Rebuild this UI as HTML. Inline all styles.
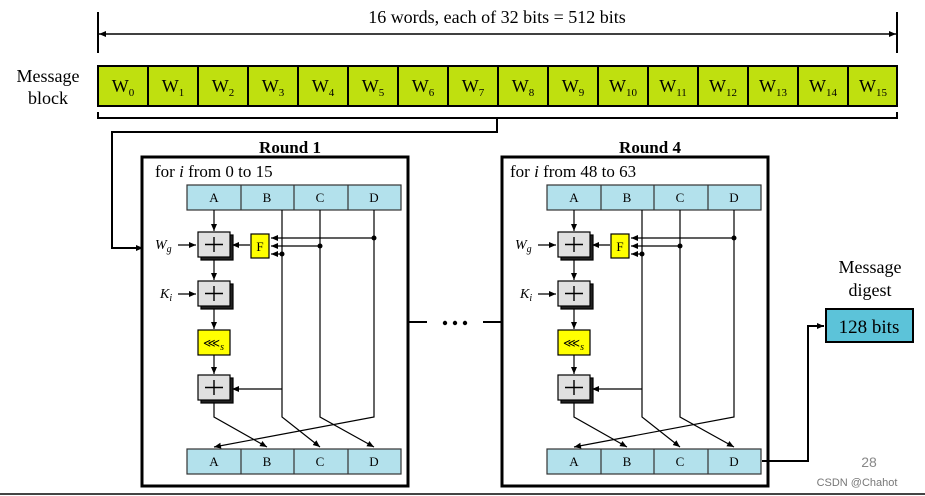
<!DOCTYPE html>
<html><head><meta charset="utf-8"><style>
html,body{margin:0;padding:0;background:#fff;width:925px;height:496px;overflow:hidden}
svg{display:block}
text{font-family:"Liberation Serif",serif;fill:#000}
</style></head><body>
<svg width="925" height="496" viewBox="0 0 925 496" xmlns="http://www.w3.org/2000/svg">
<defs>
<marker id="ar" markerWidth="8" markerHeight="8" refX="7" refY="4" orient="auto" markerUnits="userSpaceOnUse">
<path d="M0,1 L7,4 L0,7 Z" fill="#000"/></marker>
</defs>
<!-- top dimension -->
<line x1="98" y1="12" x2="98" y2="53" stroke="#000" stroke-width="2"/>
<line x1="897" y1="12" x2="897" y2="53" stroke="#000" stroke-width="2"/>
<line x1="99" y1="34" x2="896" y2="34" stroke="#000" stroke-width="1.5"/>
<path d="M99,34 l7,-3 v6 z M896,34 l-7,-3 v6 z" fill="#000"/>
<text x="497" y="23" font-size="18" text-anchor="middle">16 words, each of 32 bits = 512 bits</text>
<text x="48" y="82" font-size="18" text-anchor="middle">Message</text>
<text x="48" y="104" font-size="18" text-anchor="middle">block</text>
<!-- words -->
<g stroke="#000" stroke-width="2" fill="#bfe00f">
<rect x="98" y="66" width="799" height="40"/>
</g>
<g stroke="#000" stroke-width="2">
<line x1="148" y1="66" x2="148" y2="106"/><line x1="198" y1="66" x2="198" y2="106"/><line x1="248" y1="66" x2="248" y2="106"/><line x1="298" y1="66" x2="298" y2="106"/><line x1="348" y1="66" x2="348" y2="106"/><line x1="398" y1="66" x2="398" y2="106"/><line x1="448" y1="66" x2="448" y2="106"/><line x1="498" y1="66" x2="498" y2="106"/><line x1="548" y1="66" x2="548" y2="106"/><line x1="598" y1="66" x2="598" y2="106"/><line x1="648" y1="66" x2="648" y2="106"/><line x1="698" y1="66" x2="698" y2="106"/><line x1="748" y1="66" x2="748" y2="106"/><line x1="798" y1="66" x2="798" y2="106"/><line x1="848" y1="66" x2="848" y2="106"/>
</g>
<g font-size="18" text-anchor="middle">
<text x="123" y="92">W<tspan font-size="11" dy="4">0</tspan></text>
<text x="173" y="92">W<tspan font-size="11" dy="4">1</tspan></text>
<text x="223" y="92">W<tspan font-size="11" dy="4">2</tspan></text>
<text x="273" y="92">W<tspan font-size="11" dy="4">3</tspan></text>
<text x="323" y="92">W<tspan font-size="11" dy="4">4</tspan></text>
<text x="373" y="92">W<tspan font-size="11" dy="4">5</tspan></text>
<text x="423" y="92">W<tspan font-size="11" dy="4">6</tspan></text>
<text x="473" y="92">W<tspan font-size="11" dy="4">7</tspan></text>
<text x="523" y="92">W<tspan font-size="11" dy="4">8</tspan></text>
<text x="573" y="92">W<tspan font-size="11" dy="4">9</tspan></text>
<text x="623" y="92">W<tspan font-size="11" dy="4">10</tspan></text>
<text x="673" y="92">W<tspan font-size="11" dy="4">11</tspan></text>
<text x="723" y="92">W<tspan font-size="11" dy="4">12</tspan></text>
<text x="773" y="92">W<tspan font-size="11" dy="4">13</tspan></text>
<text x="823" y="92">W<tspan font-size="11" dy="4">14</tspan></text>
<text x="873" y="92">W<tspan font-size="11" dy="4">15</tspan></text>
</g>
<!-- bracket -->
<path d="M98,112 V118 H897 V112 M497,118 V132 H112 V248 H143" fill="none" stroke="#000" stroke-width="2" marker-end="url(#ar)"/>
<!-- dots -->
<line x1="408" y1="322" x2="427" y2="322" stroke="#000" stroke-width="2"/>
<line x1="483" y1="322" x2="502" y2="322" stroke="#000" stroke-width="2"/>
<circle cx="445" cy="323" r="2.2"/><circle cx="455" cy="323" r="2.2"/><circle cx="465" cy="323" r="2.2"/>
<!-- ROUND 1 -->
<g>
<text x="290" y="153" font-size="17" font-weight="bold" text-anchor="middle">Round 1</text>
<rect x="142" y="157" width="266" height="329" fill="none" stroke="#000" stroke-width="3"/>
<text x="155" y="177" font-size="17">for <tspan font-style="italic">i</tspan> from 0 to 15</text>
<rect x="187" y="185" width="214" height="25" fill="#b3e1ec" stroke="#333" stroke-width="1.2"/>
<path d="M241,185V210M294,185V210M348,185V210" stroke="#333" stroke-width="1.2"/>
<g font-size="13" text-anchor="middle"><text x="214" y="202">A</text><text x="267" y="202">B</text><text x="320" y="202">C</text><text x="374" y="202">D</text></g>
<rect x="187" y="449" width="214" height="25" fill="#b3e1ec" stroke="#333" stroke-width="1.2"/>
<path d="M241,449V474M294,449V474M348,449V474" stroke="#333" stroke-width="1.2"/>
<g font-size="13" text-anchor="middle"><text x="214" y="466">A</text><text x="267" y="466">B</text><text x="320" y="466">C</text><text x="374" y="466">D</text></g>
<g fill="none" stroke="#000" stroke-width="1.2">
<path d="M214,210V231" marker-end="url(#ar)"/>
<path d="M214,257V280" marker-end="url(#ar)"/>
<path d="M214,306V329" marker-end="url(#ar)"/>
<path d="M214,355V374" marker-end="url(#ar)"/>
<path d="M214,400V417L267,447" marker-end="url(#ar)"/>
<path d="M282,210V417L320,447" marker-end="url(#ar)"/>
<path d="M320,210V417L374,447" marker-end="url(#ar)"/>
<path d="M374,210V417L214,447" marker-end="url(#ar)"/>
<path d="M374,238H271" marker-end="url(#ar)"/>
<path d="M320,246H271" marker-end="url(#ar)"/>
<path d="M282,254H271" marker-end="url(#ar)"/>
<path d="M250,245H232" marker-end="url(#ar)"/>
<path d="M282,389H232" marker-end="url(#ar)"/>
<path d="M178,245H196" marker-end="url(#ar)"/>
<path d="M178,294H196" marker-end="url(#ar)"/>
</g>
<circle cx="374" cy="238" r="2.5"/><circle cx="320" cy="246" r="2.5"/><circle cx="282" cy="254" r="2.5"/>
<g stroke="#000" stroke-width="1.2">
<rect x="201" y="235" width="32" height="25" fill="#222"/><rect x="198" y="232" width="32" height="25" fill="#e0e0e0"/>
<rect x="201" y="284" width="32" height="25" fill="#222"/><rect x="198" y="281" width="32" height="25" fill="#e0e0e0"/>
<rect x="201" y="378" width="32" height="25" fill="#222"/><rect x="198" y="375" width="32" height="25" fill="#e0e0e0"/>
<path d="M214,237V252M205,244.5H223M214,286V301M205,293.5H223M214,380V395M205,387.5H223" stroke-width="1.4"/>
<rect x="198" y="330" width="32" height="25" fill="#ffff00"/>
<rect x="251" y="234" width="18" height="24" fill="#ffff00"/>
</g>
<text x="260" y="251" font-size="13" text-anchor="middle">F</text>
<text x="203" y="347" font-size="12">⋘<tspan font-style="italic" font-size="10" dy="3">s</tspan></text>
<text x="155" y="249" font-size="14" font-style="italic">W<tspan font-size="10" dy="3">g</tspan></text>
<text x="160" y="298" font-size="14" font-style="italic">K<tspan font-size="10" dy="3">i</tspan></text>
</g>
<!-- ROUND 4 -->
<g transform="translate(360,0)">
<text x="290" y="153" font-size="17" font-weight="bold" text-anchor="middle">Round 4</text>
<rect x="142" y="157" width="266" height="329" fill="none" stroke="#000" stroke-width="3"/>
<text x="150" y="177" font-size="17">for <tspan font-style="italic">i</tspan> from 48 to 63</text>
<rect x="187" y="185" width="214" height="25" fill="#b3e1ec" stroke="#333" stroke-width="1.2"/>
<path d="M241,185V210M294,185V210M348,185V210" stroke="#333" stroke-width="1.2"/>
<g font-size="13" text-anchor="middle"><text x="214" y="202">A</text><text x="267" y="202">B</text><text x="320" y="202">C</text><text x="374" y="202">D</text></g>
<rect x="187" y="449" width="214" height="25" fill="#b3e1ec" stroke="#333" stroke-width="1.2"/>
<path d="M241,449V474M294,449V474M348,449V474" stroke="#333" stroke-width="1.2"/>
<g font-size="13" text-anchor="middle"><text x="214" y="466">A</text><text x="267" y="466">B</text><text x="320" y="466">C</text><text x="374" y="466">D</text></g>
<g fill="none" stroke="#000" stroke-width="1.2">
<path d="M214,210V231" marker-end="url(#ar)"/>
<path d="M214,257V280" marker-end="url(#ar)"/>
<path d="M214,306V329" marker-end="url(#ar)"/>
<path d="M214,355V374" marker-end="url(#ar)"/>
<path d="M214,400V417L267,447" marker-end="url(#ar)"/>
<path d="M282,210V417L320,447" marker-end="url(#ar)"/>
<path d="M320,210V417L374,447" marker-end="url(#ar)"/>
<path d="M374,210V417L214,447" marker-end="url(#ar)"/>
<path d="M374,238H271" marker-end="url(#ar)"/>
<path d="M320,246H271" marker-end="url(#ar)"/>
<path d="M282,254H271" marker-end="url(#ar)"/>
<path d="M250,245H232" marker-end="url(#ar)"/>
<path d="M282,389H232" marker-end="url(#ar)"/>
<path d="M178,245H196" marker-end="url(#ar)"/>
<path d="M178,294H196" marker-end="url(#ar)"/>
</g>
<circle cx="374" cy="238" r="2.5"/><circle cx="320" cy="246" r="2.5"/><circle cx="282" cy="254" r="2.5"/>
<g stroke="#000" stroke-width="1.2">
<rect x="201" y="235" width="32" height="25" fill="#222"/><rect x="198" y="232" width="32" height="25" fill="#e0e0e0"/>
<rect x="201" y="284" width="32" height="25" fill="#222"/><rect x="198" y="281" width="32" height="25" fill="#e0e0e0"/>
<rect x="201" y="378" width="32" height="25" fill="#222"/><rect x="198" y="375" width="32" height="25" fill="#e0e0e0"/>
<path d="M214,237V252M205,244.5H223M214,286V301M205,293.5H223M214,380V395M205,387.5H223" stroke-width="1.4"/>
<rect x="198" y="330" width="32" height="25" fill="#ffff00"/>
<rect x="251" y="234" width="18" height="24" fill="#ffff00"/>
</g>
<text x="260" y="251" font-size="13" text-anchor="middle">F</text>
<text x="203" y="347" font-size="12">⋘<tspan font-style="italic" font-size="10" dy="3">s</tspan></text>
<text x="155" y="249" font-size="14" font-style="italic">W<tspan font-size="10" dy="3">g</tspan></text>
<text x="160" y="298" font-size="14" font-style="italic">K<tspan font-size="10" dy="3">i</tspan></text>
</g>
<!-- output -->
<path d="M762,461H808V326H824" fill="none" stroke="#000" stroke-width="2" marker-end="url(#ar)"/>
<rect x="826" y="309" width="87" height="33" fill="#5cc3d9" stroke="#000" stroke-width="2"/>
<text x="869" y="333" font-size="19" text-anchor="middle">128 bits</text>
<text x="870" y="273" font-size="18" text-anchor="middle">Message</text>
<text x="870" y="296" font-size="18" text-anchor="middle">digest</text>
<text x="869" y="467" font-size="14" fill="#888" style="font-family:'Liberation Sans',sans-serif;fill:#888" text-anchor="middle">28</text>
<text x="857" y="486" font-size="11" style="font-family:'Liberation Sans',sans-serif;fill:#777" text-anchor="middle">CSDN @Chahot</text>
<line x1="0" y1="494" x2="925" y2="494" stroke="#444" stroke-width="2"/>
</svg>
</body></html>
